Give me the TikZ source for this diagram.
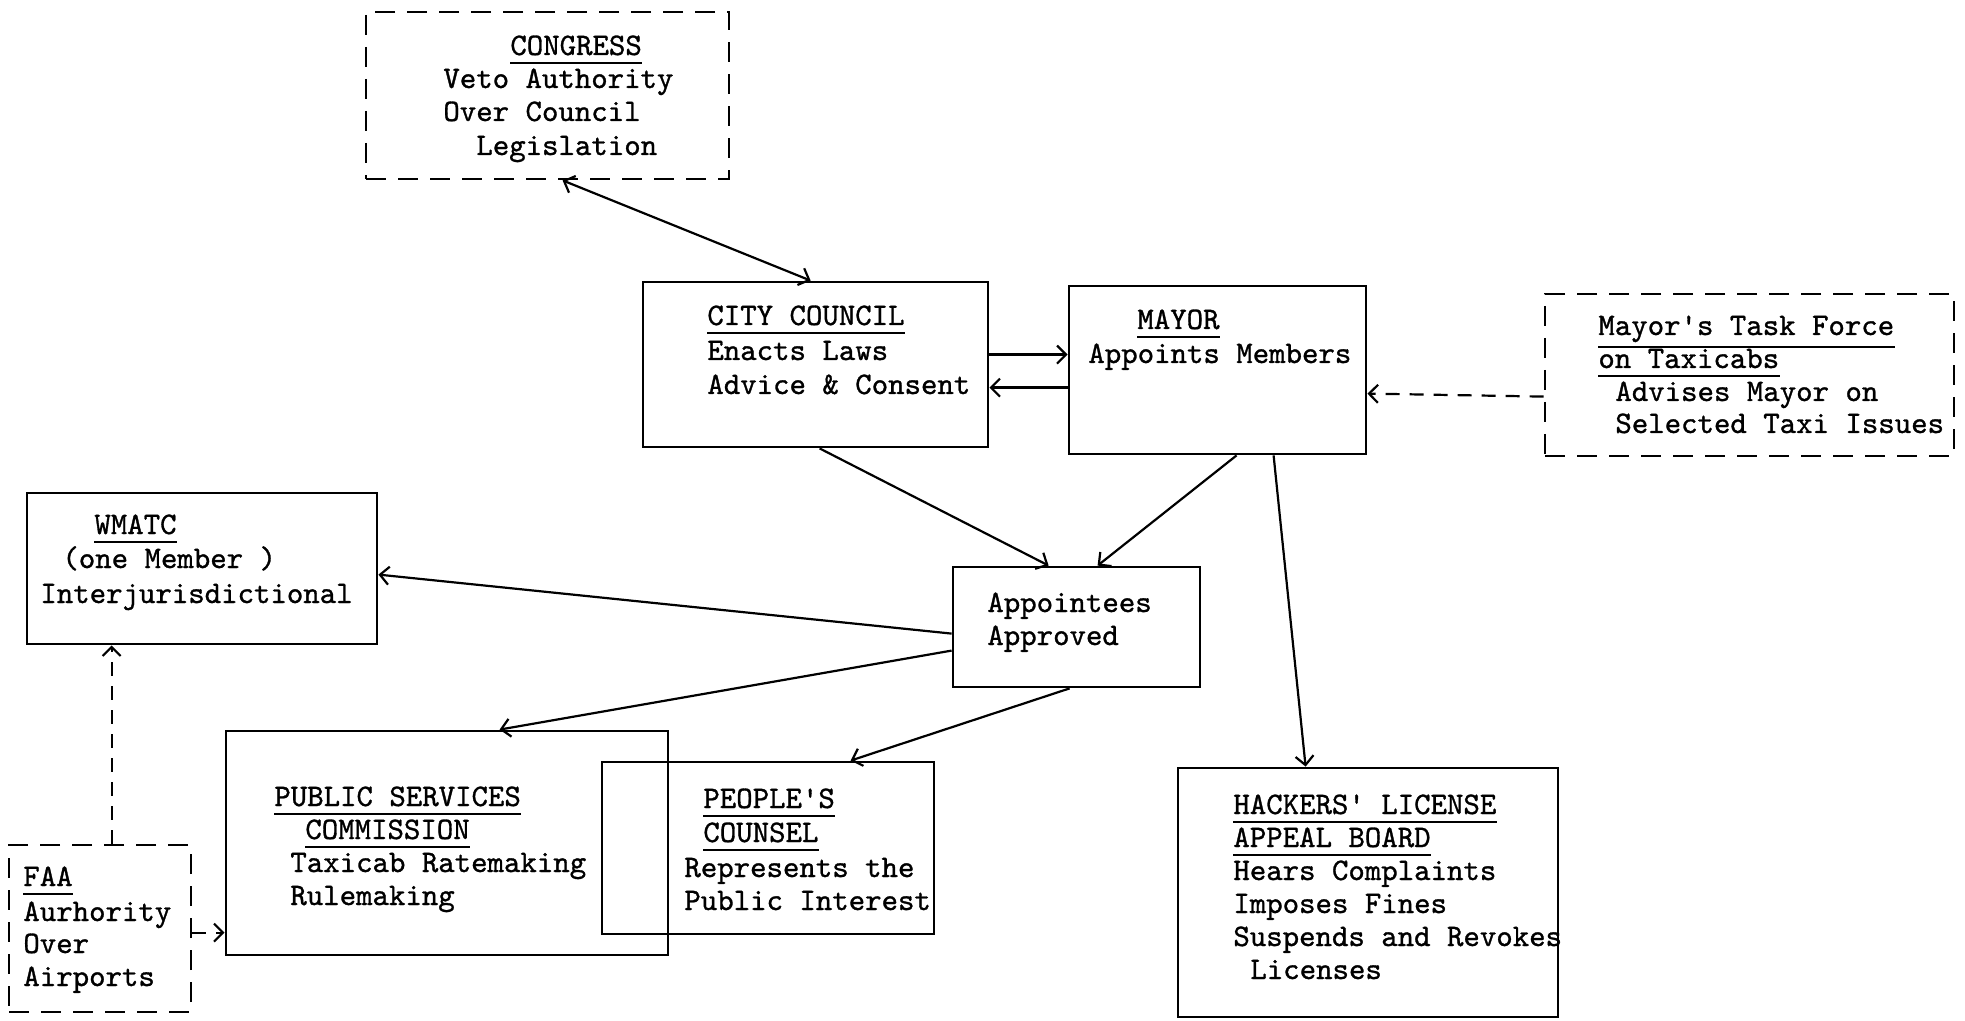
\documentclass[tikz,border=0pt]{standalone}
\usetikzlibrary{arrows.meta,calc,fit}
\font\twfont="[lmmono10-regular.otf]:embolden=1" at 15.65pt
\begin{document}
\begin{tikzpicture}[x=0.5pt,y=-0.5pt,
  box/.style={draw,line width=1.4pt,inner sep=0pt},
  dbox/.style={box,dash pattern=on 10pt off 6pt},
  t/.style={anchor=base west,inner sep=0pt,font=\twfont},
  ul/.style={line width=1pt},
  con/.style={line width=1.1pt,-{Straight Barb[length=4.5pt,width=9pt]}},
  dcon/.style={con,dash pattern=on 7pt off 5pt},
  bicon/.style={line width=1.1pt,{Straight Barb[length=4.5pt,width=9pt]}-{Straight Barb[length=4.5pt,width=9pt]}}
]
\useasboundingbox (0,0) rectangle (1965,1021);

% boxes
\node[dbox,fit={(366,12) (729,179)}] (cong) {};
\node[box,fit={(643,282) (988,447)}] (cc) {};
\node[box,fit={(1069,286) (1366,454)}] (mayor) {};
\node[dbox,fit={(1545,294) (1954,456)}] (tf) {};
\node[box,fit={(27,493) (377,644)}] (wmatc) {};
\node[box,fit={(953,567) (1200,687)}] (appt) {};
\node[box,fit={(226,731) (668,955)}] (psc) {};
\node[box,fit={(602,762) (934,934)}] (pc) {};
\node[box,fit={(1178,768) (1558,1017)}] (hack) {};
\node[dbox,fit={(9,845) (191,1012)}] (faa) {};

% texts: Congress
\node[t] (congH) at (510,55) {CONGRESS};
\node[t] (cong1) at (443,88) {Veto Authority};
\node[t] (cong2) at (443,121) {Over Council};
\node[t] (cong3) at (476,155) {Legislation};
% City council
\node[t] (ccH) at (707,325) {CITY COUNCIL};
\node[t] (cc1) at (707,360) {Enacts Laws};
\node[t] (cc2) at (707,394) {Advice \& Consent};
% Mayor
\node[t] (mayH) at (1137,329) {MAYOR};
\node[t] (may1) at (1088,363) {Appoints Members};
% Task force
\node[t] (tfH1) at (1598,335) {Mayor's Task Force};
\node[t] (tfH2) at (1598,368) {on Taxicabs};
\node[t] (tf1) at (1615,401) {Advises Mayor on};
\node[t] (tf2) at (1615,433) {Selected Taxi Issues};
% WMATC
\node[t] (wmH) at (94,534) {WMATC};
\node[t] (wm1) at (62,568) {(one Member )};
\node[t] (wm2) at (40,603) {Interjurisdictional};
% Appointees
\node[t] (ap1) at (987,612) {Appointees};
\node[t] (ap2) at (987,645) {Approved};
% PSC
\node[t] (pscH1) at (274,806) {PUBLIC SERVICES};
\node[t] (pscH2) at (305,839) {COMMISSION};
\node[t] (psc1) at (290,872) {Taxicab Ratemaking};
\node[t] (psc2) at (290,905) {Rulemaking};
% People's counsel
\node[t] (pcH1) at (703,808) {PEOPLE'S};
\node[t] (pcH2) at (703,842) {COUNSEL};
\node[t] (pc1) at (684,877) {Represents the};
\node[t] (pc2) at (684,910) {Public Interest};
% Hackers
\node[t] (hkH1) at (1233,814) {HACKERS' LICENSE};
\node[t] (hkH2) at (1233,847) {APPEAL BOARD};
\node[t] (hk1) at (1233,880) {Hears Complaints};
\node[t] (hk2) at (1233,913) {Imposes Fines};
\node[t] (hk3) at (1233,946) {Suspends and Revokes};
\node[t] (hk4) at (1250,979) {Licenses};
% FAA
\node[t] (faaH) at (23,886) {FAA};
\node[t] (faa1) at (23,921) {Aurhority};
\node[t] (faa2) at (23,953) {Over};
\node[t] (faa3) at (23,986) {Airports};

% underlines
\foreach \h in {congH,ccH,mayH,tfH2,wmH,pscH1,pscH2,pcH1,pcH2,hkH1,hkH2,faaH}
  \draw[ul] ([yshift=-4pt]\h.base west) -- ([yshift=-4pt]\h.base east);
\draw[ul] ([yshift=-6pt]tfH1.base west) -- ([yshift=-6pt]tfH1.base east);

% connectors
\draw[bicon] ($(cong.south west)+(198,0)$) -- ($(cc.north west)+(169,0)$);
\draw[con] ($(cc.north east)+(0,74)$) -- ($(mayor.north west)+(0,70)$);
\draw[con] ($(mayor.north west)+(0,103)$) -- ($(cc.north east)+(0,107)$);
\draw[dcon] ($(tf.north west)+(0,104)$) -- ($(mayor.north east)+(0,109)$);
\draw[con] ($(cc.south west)+(178,0)$) -- ($(appt.north west)+(97,0)$);
\draw[con] ($(mayor.south west)+(169,0)$) -- ($(appt.north west)+(146,0)$);
\draw[con] ($(mayor.south west)+(206,0)$) -- ($(hack.north west)+(129,0)$);
\draw[con] ($(appt.north west)+(0,68)$) -- ($(wmatc.north east)+(0,83)$);
\draw[con] ($(appt.north west)+(0,85)$) -- ($(psc.north west)+(275,0)$);
\draw[con] ($(appt.south west)+(118,0)$) -- ($(pc.north west)+(250,0)$);
\draw[dcon] ($(faa.north west)+(104,0)$) -- ($(wmatc.south west)+(86,0)$);
\draw[dcon] ($(faa.north east)+(0,89)$) -- ($(psc.north west)+(0,203)$);
\end{tikzpicture}
\end{document}
